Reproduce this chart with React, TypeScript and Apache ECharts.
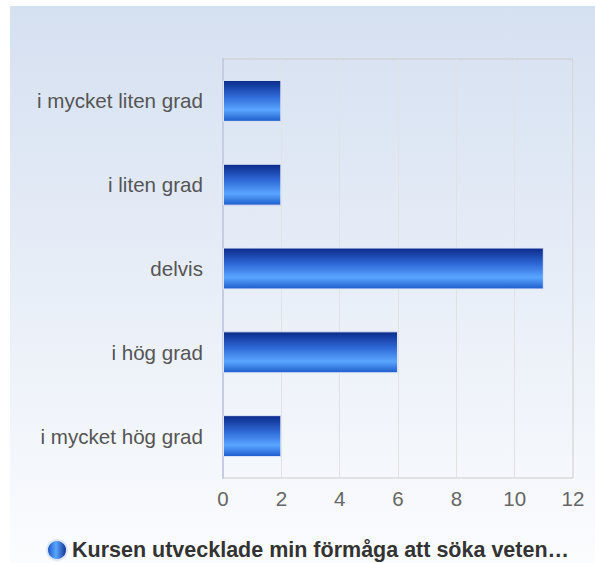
import React, { useEffect, useRef } from "react";
import * as echarts from "echarts";

const categories = ["i mycket liten grad", "i liten grad", "delvis", "i hög grad", "i mycket hög grad"];
const values = [2, 2, 11, 6, 2];
const seriesName = "Kursen utvecklade min förmåga att söka veten…";
const xMin = 0;
const xMax = 12;
const xStep = 2;

export default function App() {
  const ref = useRef<HTMLDivElement>(null);
  useEffect(() => {
    if (!ref.current) return;
    const chart = echarts.init(ref.current, null, { renderer: "svg" });
    const barColor = new echarts.graphic.LinearGradient(0, 0, 0, 1, [
      { offset: 0, color: "#0b2a8a" },
      { offset: 0.4, color: "#2f6ad8" },
      { offset: 0.72, color: "#5aa6ff" },
      { offset: 1, color: "#1d5ccc" },
    ]);
    const legendColor = new echarts.graphic.LinearGradient(0, 0, 1, 0, [
      { offset: 0, color: "#1a4fc0" },
      { offset: 0.45, color: "#5aa6ff" },
      { offset: 1, color: "#0b2a8a" },
    ]);
    chart.setOption({
      animation: false,
      backgroundColor: new echarts.graphic.LinearGradient(0, 0, 0, 1, [
        { offset: 0, color: "#d5e0f1" },
        { offset: 1, color: "#fbfcfe" },
      ]),
      grid: {
        left: 213,
        right: 22,
        top: 53,
        bottom: 85,
        show: true,
        borderColor: "#cccccc",
        borderWidth: 1,
        backgroundColor: "transparent",
      },
      legend: {
        left: 36,
        top: 533,
        padding: 0,
        itemWidth: 20,
        itemHeight: 20,
        icon: "circle",
        textStyle: {
          fontFamily: "Liberation Sans, Arial, sans-serif",
          fontSize: 21.5,
          fontWeight: "bold",
          color: "#333333",
          padding: [0, 0, 0, 0],
        },
        data: [{ name: seriesName, itemStyle: { color: legendColor } }],
      },
      xAxis: {
        type: "value",
        min: xMin,
        max: xMax,
        interval: xStep,
        axisLine: { show: false },
        axisTick: { show: false },
        splitLine: { lineStyle: { color: "#e2e2e2" } },
        axisLabel: {
          fontFamily: "Liberation Sans, Arial, sans-serif",
          fontSize: 20.5,
          color: "#666666",
          margin: 10,
        },
      },
      yAxis: {
        type: "category",
        inverse: true,
        data: categories,
        axisLine: { show: true, lineStyle: { color: "#c6cde2", width: 2 } },
        axisTick: { show: false },
        splitLine: { show: false },
        axisLabel: {
          fontFamily: "Liberation Sans, Arial, sans-serif",
          fontSize: 20.6,
          color: "#555555",
          margin: 20,
        },
      },
      series: [
        {
          name: seriesName,
          type: "bar",
          data: values,
          barWidth: "50%",
          itemStyle: {
            color: barColor,
            borderColor: "#dfe6f8",
            borderWidth: 1,
          },
        },
      ],
    });
    return () => chart.dispose();
  }, []);
  return (
    <div
      ref={ref}
      style={{ position: "absolute", left: 10, top: 6, width: 585, height: 557 }}
    />
  );
}
